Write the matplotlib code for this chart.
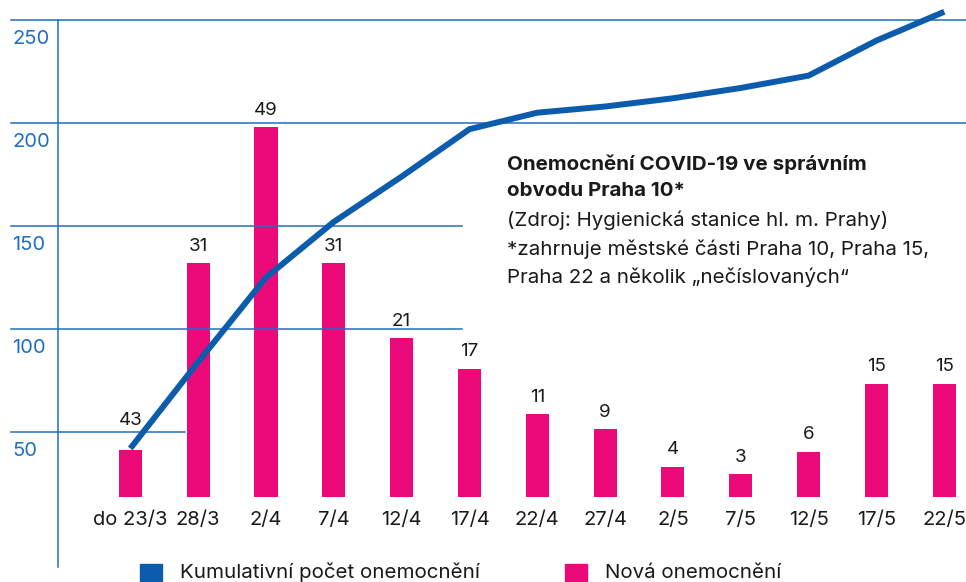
import matplotlib.pyplot as plt
import matplotlib.transforms as mtransforms
from matplotlib.patches import Rectangle
from matplotlib.lines import Line2D

plt.rcParams['font.family'] = ['Inter', 'DejaVu Sans']

# data
categories = ["do 23/3", "28/3", "2/4", "7/4", "12/4", "17/4", "22/4",
              "27/4", "2/5", "7/5", "12/5", "17/5", "22/5"]
cumulative = [42, 84, 125, 152, 174, 197, 205, 208, 212, 217, 223, 240, 254]
new_cases = [6.2, 31, 49, 31, 21, 17, 11, 9, 4, 3, 6, 15, 15]
new_labels = ["43", "31", "49", "31", "21", "17", "11", "9", "4", "3", "6", "15", "15"]
yticks = [50, 100, 150, 200, 250]
legend_labels = ["Kumulativní počet onemocnění", "Nová onemocnění"]

blue = "#0b5cad"
grid_blue = "#1f6fbf"
pink = "#ec0a7b"
dark = "#1a1a1a"

fig = plt.figure(figsize=(9.66, 5.82), dpi=100)
ax = fig.add_axes([58/966, 85/582, 908/966, 497/582])
ax2 = ax.twinx()
ax.set_zorder(ax2.get_zorder() + 1)
ax.patch.set_visible(False)

x = list(range(len(categories)))

ax2.bar(x, new_cases, width=0.34, color=pink, zorder=2)
for i, (xi, h) in enumerate(zip(x, new_cases)):
    off = 15 if i == 0 else 6
    ax2.annotate(new_labels[i], (xi, h), xytext=(0, off), textcoords="offset points",
                 ha="center", va="bottom", fontsize=13.5, color=dark)

ax.plot(x, cumulative, color=blue, lw=4.3, solid_capstyle="butt", zorder=3)

ax.set_xlim(-1.066, 12.32)
ax.set_ylim(18.45, 259.7)
ax2.set_ylim(0, 65.8)

for a in (ax, ax2):
    for s in a.spines.values():
        s.set_visible(False)
    a.set_yticks([])
ax.set_xticks(x)
ax.set_xticklabels(categories, fontsize=14.5, color=dark)
ax.tick_params(axis="x", length=0, pad=10)

# partial gridlines and tick labels
trans = mtransforms.blended_transform_factory(ax.transAxes, ax.transData)
grid_ends = {250: 1.0, 200: 1.0, 150: (462-58)/908, 100: (462-58)/908, 50: (185-58)/908}
for v in yticks:
    ax.plot([-47/908, grid_ends[v]], [v, v], transform=trans, color=grid_blue,
            lw=1.1, clip_on=False, zorder=1)
    ax.annotate(str(v), (-46/908, v), xycoords=trans, xytext=(0, -7),
                textcoords="offset points", ha="left", va="top",
                fontsize=14.5, color=grid_blue, annotation_clip=False)

# left axis line
fig.add_artist(Line2D([58/966, 58/966], [15/582, 562/582], color=grid_blue, lw=1.1))

# annotation text
fig.text(507/966, 1 - 155/582, "Onemocnění COVID-19 ve správním\nobvodu Praha 10*",
         fontsize=14.8, fontweight="bold", color=dark, va="top", linespacing=1.57)
fig.text(507/966, 1 - 211/582,
         "(Zdroj: Hygienická stanice hl. m. Prahy)\n*zahrnuje městské části Praha 10, Praha 15,\nPraha 22 a několik „nečíslovaných“",
         fontsize=14.8, color=dark, va="top", linespacing=1.57)

# legend
for lx, col, lab in zip([140, 565], [blue, pink], legend_labels):
    fig.add_artist(Rectangle((lx/966, -4/582), 22/966, 22/582, color=col,
                             transform=fig.transFigure))
    fig.text((lx + 40)/966, 4/582, lab, fontsize=14.8, color=dark, va="baseline")

fig.savefig("out.png", dpi=100)
